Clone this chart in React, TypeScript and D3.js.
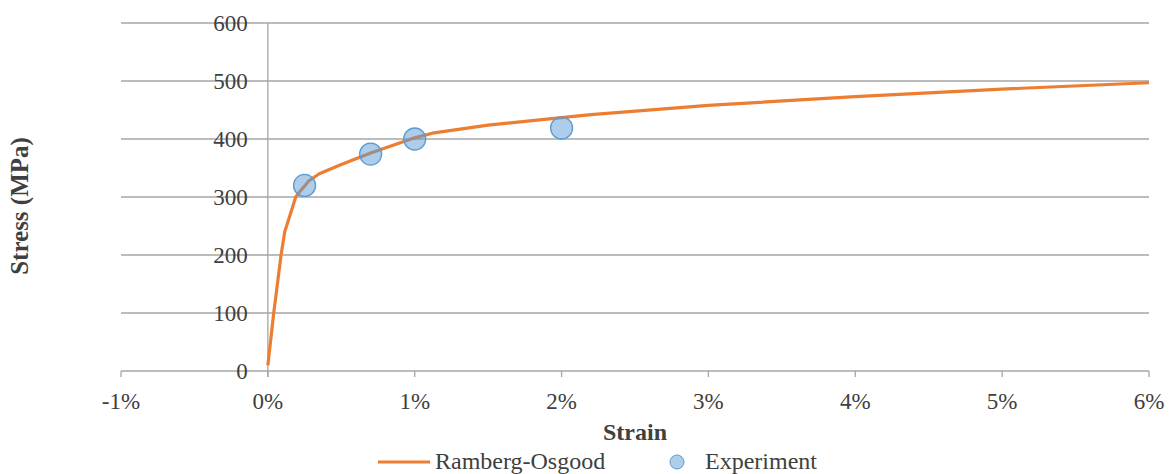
import React from 'react';
import * as d3 from 'd3';

// Ramberg-Osgood fit (strain in %, stress in MPa)
const modelStrain = [0, 0.04, 0.09, 0.115, 0.19, 0.22, 0.28, 0.35, 0.5, 0.7, 1.0, 1.12, 1.5, 2.0, 2.2, 3.0, 4.0, 5.0, 6.0];
const modelStress = [10, 100, 200, 240, 300, 310, 328, 340, 356, 376, 402, 410, 424, 437, 442, 458, 473, 486, 497];

// test points
const expStrain = [0.25, 0.7, 1.0, 2.0];
const expStress = [320, 374, 400, 419];

const xTicks = [-1, 0, 1, 2, 3, 4, 5, 6];
const yTicks = [0, 100, 200, 300, 400, 500, 600];

const W = 1176;
const H = 474;
const FONT = '"Liberation Serif", "Times New Roman", serif';
const TEXT = '#404040';
const GRID = '#a6a6a6';
const LINE = '#ed7d31';
const DOT = '#5b9bd5';

const App = () => {
  const x = d3.scaleLinear().domain([-1, 6]).range([121, 1149]);
  const y = d3.scaleLinear().domain([0, 600]).range([371, 23]);

  const model = modelStrain.map((s, i) => [s, modelStress[i]] as [number, number]);
  const path = d3
    .line<[number, number]>()
    .x((d) => x(d[0]))
    .y((d) => y(d[1]))(model);

  return (
    <svg width={W} height={H} style={{ position: 'absolute', left: 0, top: 0 }} fontFamily={FONT}>
      {/* horizontal gridlines */}
      {yTicks.map((t) => (
        <line key={'g' + t} x1={x(-1)} x2={x(6)} y1={y(t)} y2={y(t)} stroke={GRID} strokeWidth={1.3} />
      ))}
      {/* y axis sits at x = 0 */}
      <line x1={x(0)} x2={x(0)} y1={y(600)} y2={y(0) + 6} stroke={GRID} strokeWidth={1.3} />
      {/* x tick marks */}
      {xTicks.map((t) => (
        <line key={'xt' + t} x1={x(t)} x2={x(t)} y1={y(0)} y2={y(0) + 6} stroke={GRID} strokeWidth={1.3} />
      ))}
      {xTicks.map((t) => (
        <text key={'xl' + t} x={x(t)} y={409} textAnchor="middle" fontSize={23} fill={TEXT}>
          {t + '%'}
        </text>
      ))}
      {yTicks.map((t) => (
        <text key={'yl' + t} x={x(0) - 20} y={y(t)} dy="0.35em" textAnchor="end" fontSize={23} fill={TEXT}>
          {t}
        </text>
      ))}

      <path d={path || ''} fill="none" stroke={LINE} strokeWidth={3.2} strokeLinejoin="round" />

      {expStrain.map((s, i) => (
        <circle
          key={'e' + i}
          cx={x(s)}
          cy={y(expStress[i])}
          r={11}
          fill={DOT}
          fillOpacity={0.5}
          stroke={DOT}
          strokeWidth={1.3}
        />
      ))}

      {/* axis titles */}
      <text x={(x(-1) + x(6)) / 2} y={440} textAnchor="middle" fontSize={24} fontWeight="bold" fill={TEXT}>
        Strain
      </text>
      <text
        transform={`translate(28, 206) rotate(-90)`}
        textAnchor="middle"
        fontSize={25}
        fontWeight="bold"
        fill={TEXT}
      >
        Stress (MPa)
      </text>

      {/* legend */}
      <line x1={378} x2={430} y1={462} y2={462} stroke={LINE} strokeWidth={3.2} />
      <text x={435} y={469} fontSize={24} fill={TEXT}>
        Ramberg-Osgood
      </text>
      <circle cx={677} cy={462} r={7} fill={DOT} fillOpacity={0.5} stroke={DOT} strokeWidth={1} />
      <text x={705} y={469} fontSize={24} fill={TEXT}>
        Experiment
      </text>
    </svg>
  );
};

export default App;
